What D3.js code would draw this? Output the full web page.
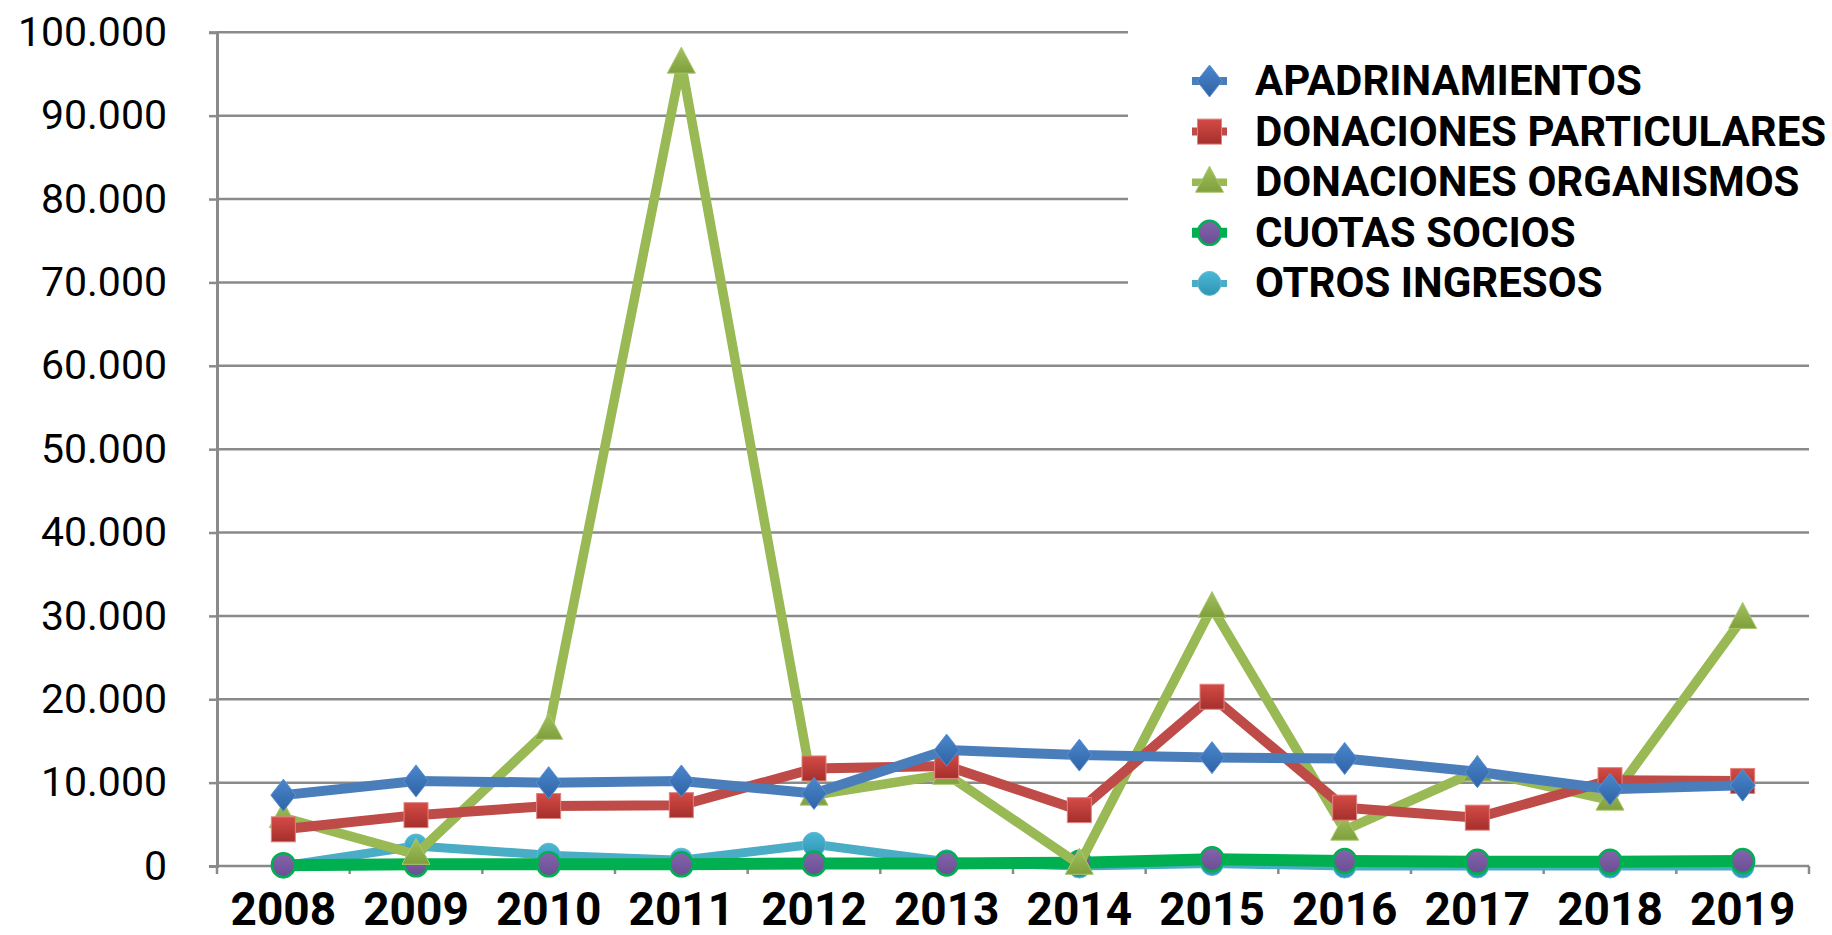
<!DOCTYPE html>
<html lang="es">
<head>
<meta charset="UTF-8">
<title>Ingresos 2008-2019</title>
<script src="https://d3js.org/d3.v7.min.js"></script>
<style>
  html, body { margin: 0; padding: 0; background: #fff; }
  svg { display: block; }
</style>
</head>
<body>
<div id="chart"></div>
<script>
// data
const years = ["2008","2009","2010","2011","2012","2013","2014","2015","2016","2017","2018","2019"];
const seriesNames = ["APADRINAMIENTOS", "DONACIONES PARTICULARES", "DONACIONES ORGANISMOS", "CUOTAS SOCIOS", "OTROS INGRESOS"];
const apadrinamientos = [8500, 10200, 10000, 10200, 8700, 13900, 13300, 13000, 12900, 11300, 9200, 9700];
const donParticulares = [4400, 6100, 7200, 7300, 11700, 12000, 6700, 20300, 7000, 5800, 10300, 10200];
const donOrganismos = [5800, 1400, 16400, 96300, 8500, 11000, 200, 31000, 4300, 11400, 7900, 29700];
const cuotasSocios = [100, 200, 200, 200, 300, 300, 400, 800, 600, 500, 500, 600];
const otrosIngresos = [0, 2400, 1300, 700, 2600, 500, 0, 300, 0, 0, 0, 0];
const yTicks = [0, 10000, 20000, 30000, 40000, 50000, 60000, 70000, 80000, 90000, 100000];

const width = 1832, height = 935;
const plotLeft = 217, plotRight = 1809, plotTop = 32.3, plotBottom = 866;

const svg = d3.select("#chart").append("svg")
  .attr("width", width).attr("height", height);

const x = d3.scaleBand().domain(years).range([plotLeft, plotRight]);
const y = d3.scaleLinear().domain([0, 100000]).range([plotBottom, plotTop]);
const cx = d => x(d) + x.bandwidth() / 2;

const es = d3.formatLocale({decimal: ",", thousands: ".", grouping: [3], currency: ["", "€"]});
const fmt = es.format(",d");

// gradients for the glossy markers
const defs = svg.append("defs");
function grad(id, c1, c2) {
  const g = defs.append("linearGradient").attr("id", id)
    .attr("x1", 0).attr("y1", 0).attr("x2", 0).attr("y2", 1);
  g.append("stop").attr("offset", "0%").attr("stop-color", c1);
  g.append("stop").attr("offset", "100%").attr("stop-color", c2);
}
grad("gBlue", "#4a86cc", "#2f63a6");
grad("gRed", "#d44b46", "#a52f2c");
grad("gOlive", "#a2c25e", "#7f9e3c");
grad("gPurple", "#8465ad", "#6a4d92");
grad("gCyan", "#4cb8d6", "#2e94b2");

// gridlines
svg.append("g")
  .selectAll("line").data(yTicks).join("line")
  .attr("x1", plotLeft).attr("x2", plotRight)
  .attr("y1", d => y(d)).attr("y2", d => y(d))
  .attr("stroke", "#8a8a8a").attr("stroke-width", 2.5);

// y axis
const yAxis = svg.append("g")
  .attr("transform", `translate(${plotLeft},0)`)
  .call(d3.axisLeft(y).tickValues(yTicks).tickFormat(fmt).tickSize(8).tickPadding(42));
yAxis.select(".domain").attr("stroke", "#8a8a8a").attr("stroke-width", 3);
yAxis.selectAll(".tick line").attr("stroke", "#8a8a8a").attr("stroke-width", 2.5);
yAxis.selectAll("text")
  .attr("font-family", "Roboto, sans-serif").attr("font-size", 41).attr("fill", "#000");

// x ticks between categories
const bounds = years.map(d => x(d)).concat([x(years[years.length - 1]) + x.bandwidth()]);
svg.append("g")
  .selectAll("line").data(bounds).join("line")
  .attr("x1", d => d).attr("x2", d => d)
  .attr("y1", plotBottom).attr("y2", plotBottom + 8)
  .attr("stroke", "#8a8a8a").attr("stroke-width", 2.5);

// x labels
svg.append("g")
  .selectAll("text").data(years).join("text")
  .attr("x", d => cx(d)).attr("y", 925)
  .attr("text-anchor", "middle")
  .attr("font-family", "Roboto, sans-serif").attr("font-weight", "bold")
  .attr("font-size", 46).attr("fill", "#000")
  .text(d => d);

const series = [
  {name: seriesNames[0], values: apadrinamientos, line: "#4a7ebb", width: 10, marker: "diamond", fill: "url(#gBlue)", stroke: "#5a8fd2", sw: 1},
  {name: seriesNames[1], values: donParticulares, line: "#be4b48", width: 10, marker: "square", fill: "url(#gRed)", stroke: "#e08380", sw: 1},
  {name: seriesNames[2], values: donOrganismos, line: "#98b954", width: 9.5, marker: "triangle", fill: "url(#gOlive)", stroke: "#a9c76c", sw: 1},
  {name: seriesNames[3], values: cuotasSocios, line: "#00b050", width: 12, marker: "circle", fill: "url(#gPurple)", stroke: "#00b050", sw: 2.5},
  {name: seriesNames[4], values: otrosIngresos, line: "#4bacc6", width: 9, marker: "circle", fill: "url(#gCyan)", stroke: "#5fbad2", sw: 1}
];

function addMarker(g, s) {
  if (s.marker === "diamond") {
    g.append("path").attr("d", "M0,-16L12.5,0L0,16L-12.5,0Z");
  } else if (s.marker === "square") {
    g.append("rect").attr("x", -12).attr("y", -12.5).attr("width", 24).attr("height", 25);
  } else if (s.marker === "triangle") {
    g.append("path").attr("d", "M0,-16L14,10L-14,10Z");
  } else {
    g.append("ellipse").attr("rx", 11.5).attr("ry", 12);
  }
  g.selectAll("*").attr("fill", s.fill).attr("stroke", s.stroke).attr("stroke-width", s.sw);
}

const line = d3.line().x((d, i) => cx(years[i])).y(d => y(d));

// last series first so that APADRINAMIENTOS sits on top
series.slice().reverse().forEach(s => {
  const g = svg.append("g");
  g.append("path").datum(s.values)
    .attr("d", line)
    .attr("fill", "none").attr("stroke", s.line)
    .attr("stroke-width", s.width).attr("stroke-linejoin", "round");
  s.values.forEach((v, i) => {
    const m = g.append("g").attr("transform", `translate(${cx(years[i])},${y(v)})`);
    addMarker(m, s);
  });
});

// legend, white box over the upper gridlines
const legend = svg.append("g");
legend.append("rect")
  .attr("x", 1128).attr("y", 18).attr("width", 704).attr("height", 300)
  .attr("fill", "#fff");
series.forEach((s, i) => {
  const yy = 81 + i * 50.6;
  const row = legend.append("g");
  row.append("line")
    .attr("x1", 1192).attr("x2", 1227).attr("y1", yy).attr("y2", yy)
    .attr("stroke", s.line).attr("stroke-width", s.width - 2);
  const m = row.append("g").attr("transform", `translate(1209.5,${yy})`);
  addMarker(m, s);
  row.append("text")
    .attr("x", 1255).attr("y", yy + 14)
    .attr("font-family", "Roboto, sans-serif").attr("font-weight", "bold")
    .attr("font-size", 42).attr("fill", "#000")
    .text(s.name);
});
</script>
</body>
</html>
